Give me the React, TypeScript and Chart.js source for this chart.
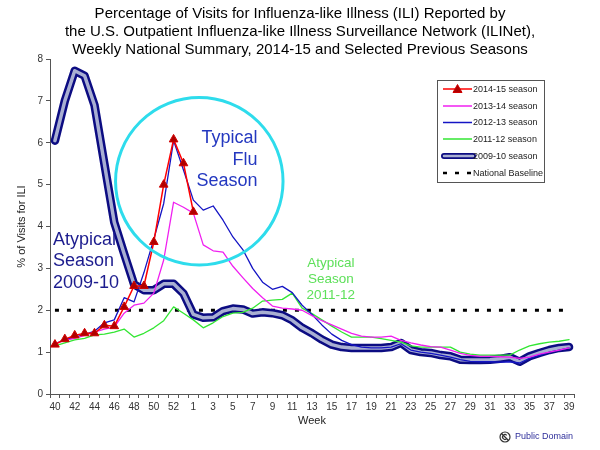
import React, { useEffect, useRef } from "react";
import { Chart, registerables } from "chart.js";

Chart.register(...registerables);

const FONT = "'Liberation Sans', Arial, Helvetica, sans-serif";

// ---------------- data ----------------
const weeks = [
  "40", "41", "42", "43", "44", "45", "46", "47", "48", "49", "50", "51", "52", "53",
  "1", "2", "3", "4", "5", "6", "7", "8", "9", "10", "11", "12", "13", "14", "15", "16",
  "17", "18", "19", "20", "21", "22", "23", "24", "25", "26", "27", "28", "29", "30",
  "31", "32", "33", "34", "35", "36", "37", "38", "39",
];

const titleLines = [
  "Percentage of Visits for Influenza-like Illness (ILI) Reported by",
  "the U.S. Outpatient Influenza-like Illness Surveillance Network (ILINet),",
  "Weekly National Summary, 2014-15 and Selected Previous Seasons",
];

const season2014_15 = [1.18, 1.31, 1.40, 1.45, 1.45, 1.64, 1.62, 2.08, 2.58, 2.58, 3.63, 5.0, 6.08, 5.51, 4.35];

const season2013_14 = [
  1.20, 1.28, 1.33, 1.40, 1.48, 1.55, 1.60, 1.93, 2.12, 2.17, 2.41, 3.20, 4.58, 4.46,
  4.32, 3.56, 3.42, 3.39, 3.05, 2.78, 2.52, 2.30, 2.10, 2.05, 2.03, 2.00, 1.87, 1.75, 1.65, 1.55,
  1.45, 1.38, 1.36, 1.36, 1.38, 1.28, 1.22, 1.17, 1.13, 1.12, 1.05, 0.97, 0.92, 0.90,
  0.90, 0.89, 0.88, 0.85, 0.88, 0.95, 1.00, 1.05, 1.10,
];

const season2012_13 = [
  1.20, 1.30, 1.36, 1.42, 1.50, 1.70, 1.77, 2.30, 2.20, 2.90, 3.70, 4.55, 6.05, 5.35,
  4.63, 4.39, 4.49, 4.15, 3.75, 3.45, 3.00, 2.67, 2.50, 2.57, 2.42, 2.12, 1.90, 1.65, 1.43, 1.28,
  1.18, 1.12, 1.10, 1.10, 1.12, 1.20, 1.05, 1.00, 0.97, 0.93, 0.88, 0.82, 0.78, 0.77,
  0.77, 0.76, 0.77, 0.74, 0.85, 0.92, 1.00, 1.05, 1.10,
];

const season2011_12 = [
  1.15, 1.22, 1.29, 1.33, 1.41, 1.43, 1.48, 1.55, 1.36, 1.45, 1.58, 1.75, 2.08, 1.93,
  1.77, 1.58, 1.70, 1.85, 1.93, 1.95, 2.05, 2.22, 2.24, 2.26, 2.41, 2.05, 1.92, 1.77, 1.62, 1.48,
  1.36, 1.36, 1.36, 1.32, 1.28, 1.24, 1.15, 1.12, 1.12, 1.12, 1.12, 1.00, 0.95, 0.93,
  0.93, 0.93, 0.93, 1.05, 1.15, 1.20, 1.24, 1.26, 1.30,
];

const season2009_10 = [
  6.05, 7.00, 7.72, 7.60, 6.90, 5.50, 4.10, 3.35, 2.62, 2.48, 2.48, 2.63, 2.63, 2.40,
  1.90, 1.82, 1.83, 1.98, 2.04, 2.02, 1.92, 1.95, 1.93, 1.88, 1.76, 1.58, 1.45, 1.30, 1.18, 1.12,
  1.10, 1.10, 1.10, 1.10, 1.12, 1.22, 1.05, 1.00, 0.98, 0.93, 0.90, 0.82, 0.81, 0.81,
  0.82, 0.84, 0.88, 0.77, 0.90, 0.98, 1.05, 1.10, 1.12,
];

const nationalBaseline = 2.0;

const legendLabels = [
  "2014-15 season",
  "2013-14 season",
  "2012-13 season",
  "2011-12 season",
  "2009-10 season",
  "National Baseline",
];

const yMin = 0;
const yMax = 8;
const yStep = 1;

const typicalText = ["Typical", "Flu", "Season"];
const atypical0910Text = ["Atypical", "Season", "2009-10"];
const atypical1112Text = ["Atypical", "Season", "2011-12"];

// ---------------- colours ----------------
const C_RED = "#FF0000";
const C_MAG = "#F020F0";
const C_BLUE = "#1414C4";
const C_GREEN = "#33E633";
const C_NAVY = "#0C0C82";
const C_INNER = "#A9AFD2";

const overlay = {
  id: "overlay",
  afterDatasetsDraw(chart: any) {
    const ctx = chart.ctx;
    const xs = chart.scales.x;
    const ys = chart.scales.y;
    ctx.save();
    const cx = xs.getPixelForValue(14.6);
    const cy = ys.getPixelForValue(5.08);
    const r = Math.abs(ys.getPixelForValue(0) - ys.getPixelForValue(2.0));
    ctx.strokeStyle = "#2EDCEC";
    ctx.lineWidth = 3;
    ctx.beginPath();
    ctx.arc(cx, cy, r, 0, Math.PI * 2);
    ctx.stroke();

    ctx.font = `18px ${FONT}`;
    ctx.fillStyle = "#2438C0";
    ctx.textAlign = "right";
    ctx.textBaseline = "middle";
    const tx = xs.getPixelForValue(20.5);
    const ty = ys.getPixelForValue(6.11);
    typicalText.forEach((t, i) => ctx.fillText(t, tx, ty + i * 21.5));

    ctx.font = `18px ${FONT}`;
    ctx.fillStyle = "#1C1C8E";
    ctx.textAlign = "left";
    const ax = xs.getPixelForValue(-0.2);
    const ay = ys.getPixelForValue(3.68);
    atypical0910Text.forEach((t, i) => ctx.fillText(t, ax, ay + i * 21.5));

    ctx.font = `13.5px ${FONT}`;
    ctx.fillStyle = "#5EE05A";
    ctx.textAlign = "center";
    const gx = xs.getPixelForValue(27.9);
    const gy = ys.getPixelForValue(3.12);
    atypical1112Text.forEach((t, i) => ctx.fillText(t, gx, gy + i * 16));
    ctx.restore();
  },
  afterDraw(chart: any) {
    const ctx = chart.ctx;
    const area = chart.chartArea;
    ctx.save();
    ctx.fillStyle = "#000";
    ctx.font = `15px ${FONT}`;
    ctx.textAlign = "center";
    ctx.textBaseline = "middle";
    titleLines.forEach((t, i) => ctx.fillText(t, 300, 14 + i * 18));

    ctx.font = `11px ${FONT}`;
    ctx.fillStyle = "#222";
    ctx.fillText("Week", (area.left + area.right) / 2, 421);
    ctx.save();
    ctx.translate(22, (area.top + area.bottom) / 2);
    ctx.rotate(-Math.PI / 2);
    ctx.fillText("% of Visits for ILI", 0, 0);
    ctx.restore();

    const lx = 437.5, ly = 80.5, lw = 107, lh = 102;
    ctx.fillStyle = "#fff";
    ctx.fillRect(lx, ly, lw, lh);
    ctx.strokeStyle = "#555";
    ctx.lineWidth = 1;
    ctx.strokeRect(lx, ly, lw, lh);
    const rows = [89, 106, 122.5, 139, 156, 173];
    const sx0 = 443, sx1 = 472;
    ctx.font = `9px ${FONT}`;
    ctx.textAlign = "left";
    ctx.textBaseline = "middle";
    rows.forEach((ry, i) => {
      ctx.save();
      if (i === 0) {
        ctx.strokeStyle = C_RED; ctx.lineWidth = 1.5;
        ctx.beginPath(); ctx.moveTo(sx0, ry); ctx.lineTo(sx1, ry); ctx.stroke();
        const mx = (sx0 + sx1) / 2;
        ctx.fillStyle = "#B00000"; ctx.strokeStyle = "#D00000"; ctx.lineWidth = 1;
        ctx.beginPath(); ctx.moveTo(mx, ry - 4.5); ctx.lineTo(mx + 4.5, ry + 3.5); ctx.lineTo(mx - 4.5, ry + 3.5); ctx.closePath();
        ctx.fill(); ctx.stroke();
      } else if (i >= 1 && i <= 3) {
        ctx.strokeStyle = [C_MAG, C_BLUE, C_GREEN][i - 1]; ctx.lineWidth = 1.5;
        ctx.beginPath(); ctx.moveTo(sx0, ry); ctx.lineTo(sx1, ry); ctx.stroke();
      } else if (i === 4) {
        ctx.lineCap = "round";
        ctx.strokeStyle = C_NAVY; ctx.lineWidth = 6;
        ctx.beginPath(); ctx.moveTo(sx0 + 1, ry); ctx.lineTo(sx1 + 1, ry); ctx.stroke();
        ctx.strokeStyle = C_INNER; ctx.lineWidth = 2.5;
        ctx.beginPath(); ctx.moveTo(sx0 + 1, ry); ctx.lineTo(sx1 + 1, ry); ctx.stroke();
      } else {
        ctx.strokeStyle = "#000"; ctx.lineWidth = 2.5;
        ctx.setLineDash([4, 8]);
        ctx.beginPath(); ctx.moveTo(sx0, ry); ctx.lineTo(sx1 + 1, ry); ctx.stroke();
      }
      ctx.restore();
      ctx.fillStyle = "#1a1a1a";
      ctx.fillText(legendLabels[i], 473, ry + 0.5);
    });

    const px = 505, py = 437;
    ctx.strokeStyle = "#333";
    ctx.lineWidth = 1.2;
    ctx.beginPath(); ctx.arc(px, py, 5, 0, Math.PI * 2); ctx.stroke();
    ctx.beginPath(); ctx.arc(px, py, 2.4, Math.PI * 0.25, Math.PI * 1.75); ctx.stroke();
    ctx.beginPath(); ctx.moveTo(px - 3.5, py - 3.5); ctx.lineTo(px + 3.5, py + 3.5); ctx.stroke();
    ctx.fillStyle = "#2E2E9A";
    ctx.font = `9px ${FONT}`;
    ctx.textAlign = "left";
    ctx.fillText("Public Domain", 515, py);
    ctx.restore();
  },
};

export default function App() {
  const canvasRef = useRef<HTMLCanvasElement | null>(null);

  useEffect(() => {
    const canvas = canvasRef.current;
    if (!canvas) return;
    Chart.defaults.font.family = FONT;
    const baselineData = weeks.map(() => nationalBaseline);
    const chart = new Chart(canvas, {
      type: "line",
      data: {
        labels: weeks,
        datasets: [
          {
            label: legendLabels[0],
            data: season2014_15,
            borderColor: C_RED,
            borderWidth: 1.5,
            pointStyle: "triangle",
            pointRadius: 5,
            pointBackgroundColor: "#B00000",
            pointBorderColor: "#D00000",
            pointBorderWidth: 1,
          },
          { label: legendLabels[1], data: season2013_14, borderColor: C_MAG, borderWidth: 1.3, pointRadius: 0 },
          { label: legendLabels[2], data: season2012_13, borderColor: C_BLUE, borderWidth: 1.3, pointRadius: 0 },
          { label: legendLabels[3], data: season2011_12, borderColor: C_GREEN, borderWidth: 1.3, pointRadius: 0 },
          { label: legendLabels[4], data: season2009_10, borderColor: C_INNER, borderWidth: 3.5, pointRadius: 0 },
          { label: legendLabels[4] + " outline", data: season2009_10, borderColor: C_NAVY, borderWidth: 8.5, pointRadius: 0 },
          {
            label: legendLabels[5],
            data: baselineData,
            borderColor: "#000",
            borderWidth: 3,
            borderDash: [4, 8],
            borderCapStyle: "butt",
            pointRadius: 0,
          },
        ] as any,
      },
      options: {
        responsive: false,
        animation: false,
        devicePixelRatio: 1,
        layout: { padding: { top: 59, right: 26, left: 0, bottom: 0 } },
        plugins: {
          legend: { display: false },
          title: { display: false },
          tooltip: { enabled: false },
        },
        elements: {
          line: { tension: 0, borderJoinStyle: "round", borderCapStyle: "round", fill: false },
          point: { radius: 0 },
        },
        scales: {
          x: {
            type: "category",
            offset: true,
            grid: { display: true, drawOnChartArea: false, drawTicks: true, tickLength: 4, color: "#555", offset: true },
            border: { display: true, color: "#555", width: 1 },
            ticks: {
              autoSkip: false,
              maxRotation: 0,
              minRotation: 0,
              padding: 3,
              color: "#333",
              font: { size: 10 },
              callback: (_v: any, i: number) => (i % 2 === 0 ? weeks[i] : ""),
            },
            afterFit: (s: any) => { s.height = 56; },
          },
          y: {
            min: yMin,
            max: yMax,
            ticks: { stepSize: yStep, color: "#333", font: { size: 10 }, padding: 3 },
            grid: { display: true, drawOnChartArea: false, drawTicks: true, tickLength: 4, color: "#555" },
            border: { display: true, color: "#555", width: 1 },
            afterFit: (s: any) => { s.width = 50; },
          },
        },
      } as any,
      plugins: [overlay],
    });
    return () => chart.destroy();
  }, []);

  return (
    <div style={{ position: "absolute", left: 0, top: 0, width: 600, height: 450, background: "#fff" }}>
      <canvas ref={canvasRef} width={600} height={450} style={{ display: "block" }} />
    </div>
  );
}
